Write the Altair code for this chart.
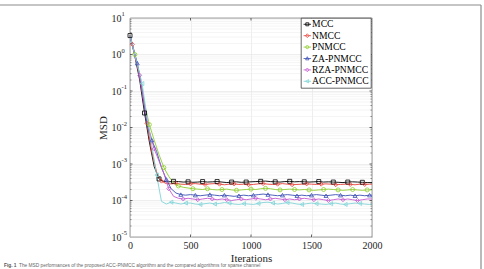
import altair as alt
import pandas as pd

SERIF = "Liberation Serif"
AX = "#262626"

SERIES = ["MCC", "NMCC", "PNMCC", "ZA-PNMCC", "RZA-PNMCC", "ACC-PNMCC"]
COLORS = ["#000000", "#e8413a", "#8fce2c", "#3c4fb5", "#c45ad1", "#80d4d8"]
MARKERS = ["square", "diamond", "circle", "triangle-up", "diamond", "triangle-left"]
# legend glyphs: a short line segment with the series marker in its middle
LEGEND_GLYPHS = [
    "M-1,0L1,0M-0.4,-0.4L0.4,-0.4L0.4,0.4L-0.4,0.4Z",
    "M-1,0L1,0M0,-0.5L0.5,0L0,0.5L-0.5,0Z",
    "M-1,0L1,0M0.42,0L0.3,0.3L0,0.42L-0.3,0.3L-0.42,0L-0.3,-0.3L0,-0.42L0.3,-0.3Z",
    "M-1,0L1,0M0,-0.48L0.45,0.36L-0.45,0.36Z",
    "M-1,0L1,0M0,-0.5L0.5,0L0,0.5L-0.5,0Z",
    "M-1,0L1,0M-0.48,0L0.36,-0.45L0.36,0.45Z",
]

# iteration grids (every 40 iterations, staggered per algorithm)
it_mcc = list(range(0, 2001, 40))
it_nmcc = [0] + list(range(20, 2000, 40)) + [2000]
it_pnmcc = list(range(0, 2001, 40))
it_za = [0] + list(range(60, 2000, 40)) + [2000]
it_rza = [0] + list(range(80, 2000, 40)) + [2000]
it_acc = [0] + list(range(100, 2000, 40)) + [2000]

msd_mcc = [3.3, 0.9, 0.2, 0.025, 4.0e-3, 8.5e-4, 3.9e-4, 3.3e-4, 3.25e-4, 3.35e-4,
           3.3e-4, 3.2e-4, 3.25e-4, 3.15e-4, 3.2e-4, 3.3e-4, 3.2e-4, 3.25e-4, 3.3e-4, 3.2e-4,
           3.1e-4, 3.2e-4, 3.25e-4, 3.15e-4, 3.2e-4, 3.25e-4, 3.3e-4, 3.35e-4, 3.4e-4, 3.3e-4,
           3.25e-4, 3.2e-4, 3.3e-4, 3.35e-4, 3.25e-4, 3.3e-4, 3.25e-4, 3.2e-4, 3.25e-4, 3.3e-4,
           3.2e-4, 3.25e-4, 3.2e-4, 3.15e-4, 3.1e-4, 3.2e-4, 3.25e-4, 3.2e-4, 3.15e-4, 3.1e-4,
           3.1e-4]
msd_nmcc = [3.3, 1.9, 0.5, 0.1, 0.013, 2.2e-3, 6.0e-4, 3.4e-4, 2.9e-4, 2.85e-4,
            2.95e-4, 2.8e-4, 2.75e-4, 2.85e-4, 2.9e-4, 2.8e-4, 2.75e-4, 2.85e-4, 2.9e-4, 2.8e-4,
            2.7e-4, 2.8e-4, 2.85e-4, 2.75e-4, 2.8e-4, 2.7e-4, 2.75e-4, 2.85e-4, 2.9e-4, 2.8e-4,
            2.75e-4, 2.8e-4, 2.9e-4, 2.8e-4, 2.7e-4, 2.75e-4, 2.8e-4, 2.85e-4, 2.8e-4, 2.75e-4,
            2.8e-4, 2.85e-4, 2.8e-4, 2.7e-4, 2.75e-4, 2.8e-4, 2.75e-4, 2.7e-4, 2.8e-4, 2.75e-4,
            2.8e-4, 2.8e-4]
msd_pnmcc = [3.3, 1.0, 0.3, 0.045, 0.012, 4.5e-3, 1.8e-3, 8.0e-4, 4.6e-4, 3.0e-4,
             2.5e-4, 2.3e-4, 2.2e-4, 2.1e-4, 2.05e-4, 2.0e-4, 2.1e-4, 2.0e-4, 1.95e-4, 2.0e-4,
             2.05e-4, 1.95e-4, 1.9e-4, 1.95e-4, 2.0e-4, 2.05e-4, 2.0e-4, 2.1e-4, 2.15e-4, 2.1e-4,
             2.0e-4, 1.95e-4, 2.0e-4, 2.05e-4, 2.0e-4, 1.95e-4, 2.0e-4, 1.95e-4, 1.9e-4, 1.95e-4,
             2.0e-4, 2.05e-4, 2.0e-4, 1.95e-4, 1.9e-4, 1.95e-4, 2.0e-4, 1.95e-4, 1.9e-4, 1.95e-4,
             1.95e-4]
msd_za = [3.3, 0.58, 0.1, 0.012, 4.5e-3, 2.2e-3, 8.0e-4, 3.8e-4, 2.1e-4, 1.6e-4,
          1.45e-4, 1.4e-4, 1.45e-4, 1.4e-4, 1.35e-4, 1.4e-4, 1.45e-4, 1.4e-4, 1.35e-4, 1.4e-4,
          1.35e-4, 1.3e-4, 1.35e-4, 1.4e-4, 1.35e-4, 1.4e-4, 1.45e-4, 1.5e-4, 1.45e-4, 1.4e-4,
          1.35e-4, 1.4e-4, 1.45e-4, 1.4e-4, 1.35e-4, 1.4e-4, 1.35e-4, 1.4e-4, 1.45e-4, 1.4e-4,
          1.35e-4, 1.4e-4, 1.45e-4, 1.4e-4, 1.35e-4, 1.4e-4, 1.35e-4, 1.4e-4, 1.35e-4, 1.4e-4,
          1.4e-4]
msd_rza = [3.3, 0.27, 0.04, 8.0e-3, 2.6e-3, 1.2e-3, 5.5e-4, 2.1e-4, 1.3e-4, 1.15e-4,
           1.1e-4, 1.15e-4, 1.1e-4, 1.05e-4, 1.1e-4, 1.15e-4, 1.1e-4, 1.05e-4, 1.1e-4, 1.05e-4,
           1.0e-4, 1.05e-4, 1.1e-4, 1.05e-4, 1.1e-4, 1.15e-4, 1.1e-4, 1.05e-4, 1.1e-4, 1.15e-4,
           1.1e-4, 1.05e-4, 1.1e-4, 1.05e-4, 1.1e-4, 1.15e-4, 1.1e-4, 1.05e-4, 1.1e-4, 1.05e-4,
           1.0e-4, 1.05e-4, 1.1e-4, 1.05e-4, 1.1e-4, 1.05e-4, 1.0e-4, 1.05e-4, 1.1e-4, 1.1e-4]
msd_acc = [3.3, 0.16, 0.02, 3.3e-3, 5.0e-4, 9.5e-5, 8.0e-5, 9.0e-5, 8.5e-5, 8.0e-5,
           8.5e-5, 8.5e-5, 8.0e-5, 7.8e-5, 8.2e-5, 8.5e-5, 8.0e-5, 8.3e-5, 8.8e-5, 8.5e-5,
           8.0e-5, 7.8e-5, 8.2e-5, 8.0e-5, 7.8e-5, 8.3e-5, 8.8e-5, 9.0e-5, 8.5e-5, 8.0e-5,
           8.3e-5, 8.8e-5, 8.5e-5, 8.0e-5, 7.8e-5, 8.2e-5, 8.5e-5, 8.2e-5, 8.0e-5, 7.8e-5,
           8.2e-5, 8.5e-5, 8.0e-5, 7.8e-5, 8.2e-5, 8.5e-5, 8.3e-5, 8.0e-5, 7.8e-5, 8.0e-5]

# first sample index carrying a marker; markers then repeat every 3 samples (120 iterations)
MARK_START = [0, 1, 1, 1, 1, 1]

grids = [it_mcc, it_nmcc, it_pnmcc, it_za, it_rza, it_acc]
values = [msd_mcc, msd_nmcc, msd_pnmcc, msd_za, msd_rza, msd_acc]

rows = []
for name, its, vals, start in zip(SERIES, grids, values, MARK_START):
    assert len(its) == len(vals), (name, len(its), len(vals))
    for i, (t, v) in enumerate(zip(its, vals)):
        mk = i >= start and (i - start) % 3 == 0 and t < 2000
        rows.append({"series": name, "it": t, "msd": v, "mk": mk})
df = pd.DataFrame(rows)

y_ticks = [1e-5, 1e-4, 1e-3, 1e-2, 1e-1, 1e0, 1e1]
y_exps = ["-5", "-4", "-3", "-2", "-1", "0", "1"]
x_ticks = [0, 500, 1000, 1500, 2000]
y_minor = [m * 10.0 ** d for d in range(-5, 1) for m in range(2, 10)]

W, H = 242, 219

xscale = alt.Scale(domain=[0, 2000], nice=False, zero=False)
yscale = alt.Scale(type="log", domain=[1e-5, 10], nice=False)
cscale = alt.Scale(domain=SERIES, range=COLORS)

x_axis = alt.Axis(values=x_ticks, format="d", title="Iterations", grid=True, ticks=False,
                  domain=False, labelFlush=False, labelOverlap=False, labelPadding=3,
                  titlePadding=2)
y_axis = alt.Axis(values=y_ticks, labelExpr="'10'", title="MSD", grid=True, ticks=False,
                  domain=False, labelFlush=False, labelOverlap=False, labelPadding=9,
                  titlePadding=3)

base = alt.Chart(df)

# legend carrier (no visible marks); listed first so its axes and legend are the ones kept
legend = alt.Legend(title=None, orient="none", legendX=171, legendY=0, direction="vertical")
legend_layer = base.mark_point(filled=False, strokeWidth=0.8, size=56, opacity=1).encode(
    x=alt.X("it:Q", scale=xscale, axis=x_axis),
    y=alt.Y("msd:Q", scale=yscale, axis=y_axis),
    color=alt.Color("series:N", scale=cscale, legend=legend),
    shape=alt.Shape("series:N", scale=alt.Scale(domain=SERIES, range=LEGEND_GLYPHS), legend=legend),
).transform_filter("false")

# minor log grid
minor_grid = alt.Chart(pd.DataFrame({"v": y_minor})).mark_rule(color="#efefef", strokeWidth=0.6).encode(
    y=alt.Y("v:Q", scale=yscale), x=alt.value(0), x2=alt.value(W)
)

lines = base.mark_line(strokeWidth=0.9).encode(
    x=alt.X("it:Q", scale=xscale),
    y=alt.Y("msd:Q", scale=yscale),
    color=alt.Color("series:N", scale=cscale, legend=None),
)

point_layers = []
for name, shape in zip(SERIES, MARKERS):
    point_layers.append(
        base.mark_point(shape=shape, filled=False, size=16, strokeWidth=0.8, opacity=1)
        .encode(
            x=alt.X("it:Q", scale=xscale),
            y=alt.Y("msd:Q", scale=yscale),
            color=alt.Color("series:N", scale=cscale, legend=None),
        )
        .transform_filter(f"datum.mk && datum.series === '{name}'")
    )

# inward tick marks on all four sides
xt = pd.DataFrame({"v": x_ticks[1:-1]})
yt = pd.DataFrame({"v": y_ticks[1:-1]})
ym = pd.DataFrame({"v": y_minor})
tick_layers = [
    alt.Chart(xt).mark_rule(color=AX, strokeWidth=0.7).encode(
        x=alt.X("v:Q", scale=xscale), y=alt.value(H), y2=alt.value(H - 2.5)),
    alt.Chart(xt).mark_rule(color=AX, strokeWidth=0.7).encode(
        x=alt.X("v:Q", scale=xscale), y=alt.value(0), y2=alt.value(2.5)),
    alt.Chart(yt).mark_rule(color=AX, strokeWidth=0.7).encode(
        y=alt.Y("v:Q", scale=yscale), x=alt.value(0), x2=alt.value(2.5)),
    alt.Chart(yt).mark_rule(color=AX, strokeWidth=0.7).encode(
        y=alt.Y("v:Q", scale=yscale), x=alt.value(W), x2=alt.value(W - 2.5)),
    alt.Chart(ym).mark_rule(color=AX, strokeWidth=0.5).encode(
        y=alt.Y("v:Q", scale=yscale), x=alt.value(0), x2=alt.value(1.5)),
    alt.Chart(ym).mark_rule(color=AX, strokeWidth=0.5).encode(
        y=alt.Y("v:Q", scale=yscale), x=alt.value(W), x2=alt.value(W - 1.5)),
]

# superscript exponents after the "10" tick labels
exps = alt.Chart(pd.DataFrame({"v": y_ticks, "e": y_exps})).mark_text(
    align="left", baseline="middle", dy=-4, fontSize=6.5, font=SERIF, color=AX
).encode(y=alt.Y("v:Q", scale=yscale), x=alt.value(-8.5), text="e:N")

one = pd.DataFrame({"a": [0]})
frame_top = alt.Chart(one).mark_rule(color="#8c8c8c", strokeWidth=1.2).encode(
    x=alt.value(-130), x2=alt.value(351), y=alt.value(-13))
frame_right = alt.Chart(one).mark_rule(color="#8c8c8c", strokeWidth=1.2).encode(
    x=alt.value(351), y=alt.value(-13), y2=alt.value(251))

cap_bold = alt.Chart(one).mark_text(
    align="left", baseline="middle", fontSize=4.8, fontWeight="bold", font="Liberation Sans", color="#555555"
).encode(x=alt.value(-126), y=alt.value(248), text=alt.value("Fig. 1"))
cap_text = alt.Chart(one).mark_text(
    align="left", baseline="middle", fontSize=4.8, font="Liberation Sans", color="#666666"
).encode(x=alt.value(-111), y=alt.value(248),
         text=alt.value("The MSD performances of the proposed ACC-PNMCC algorithm and the compared algorithms for sparse channel"))

chart = alt.layer(
    legend_layer, minor_grid, lines, *point_layers, *tick_layers, exps,
    frame_top, frame_right, cap_bold, cap_text,
).resolve_scale(
    color="independent", shape="independent"
).properties(
    width=W, height=H,
    background="white",
    autosize=alt.AutoSizeParams(type="none"),
    padding={"left": 130, "top": 18, "right": 112, "bottom": 32},
).configure_view(
    stroke=AX, strokeWidth=0.7
).configure_axis(
    labelFont=SERIF, labelFontSize=10, labelColor=AX,
    titleFont=SERIF, titleFontSize=11, titleFontWeight="normal", titleColor=AX,
    gridColor="#e2e2e2", gridWidth=0.6,
).configure_legend(
    padding=1.5, rowPadding=0.4, symbolSize=56, symbolStrokeWidth=0.8,
    labelFont=SERIF, labelFontSize=9.6, labelColor="#000000", labelOffset=0,
    strokeColor=AX, strokeWidth=0.7, fillColor="white", cornerRadius=0,
)

chart.save("out.html", embed_options={"renderer": "svg", "actions": False})
